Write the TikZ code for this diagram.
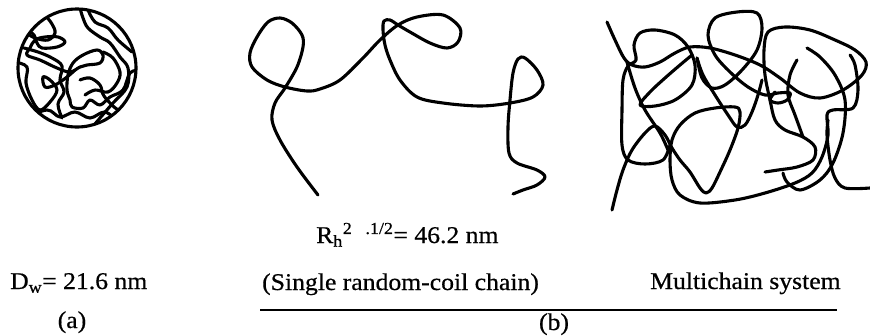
\documentclass[tikz,border=0pt]{standalone}
\usepackage{fontspec}
\setmainfont{Liberation Serif}[FakeStretch=1.07,FakeBold=0.6]
\begin{document}
\begin{tikzpicture}[x=1pt,y=-1pt,
  chain/.style={line width=3.1pt, line cap=round, line join=round},
  lbl/.style={inner sep=0pt, font=\fontsize{24}{27}\selectfont}]
\useasboundingbox (0,0) rectangle (870,335);

% (a) collapsed globule
\draw[chain] (77,68) circle (59);
\begin{scope}
  \clip (77,68) circle (58.5);
  \draw[chain] plot[smooth, tension=0.6] coordinates {(15,30) (32,33) (37,43) (42,48) (57,47) (65,42) (58,37) (45,37) (35,40) (30,48) (27,55) (40,60) (57,68) (70,72) (80,67) (87,65) (100,63) (103,55) (97,50) (83,55) (73,63) (68,75) (67,90) (70,100) (72,107) (83,108) (90,100) (100,105) (110,97) (123,90) (130,73) (140,70)};
  \draw[chain] plot[smooth, tension=0.6] coordinates {(80,8) (83,18) (88,28) (100,37) (110,43) (120,57) (128,68) (127,87) (113,103) (100,118) (90,130)};
  \draw[chain] plot[smooth, tension=0.6] coordinates {(15,62) (27,67) (26,83) (32,100) (40,110) (50,102) (57,90) (50,80) (43,77) (45,87) (55,85) (67,77) (75,70)};
  \draw[chain] plot[smooth, tension=0.6] coordinates {(25,118) (47,110) (60,117) (75,112) (90,118) (105,112) (118,122)};
  \draw[chain] plot[smooth, tension=0.6] coordinates {(103,52) (113,58) (120,72) (117,83) (108,92) (95,90) (85,95)};
  \draw[chain] plot[smooth, tension=0.6] coordinates {(45,15) (52,24) (55,33) (48,40) (35,38) (25,32)};
  \draw[chain] plot[smooth, tension=0.6] coordinates {(24,48) (38,52) (52,58) (62,66) (60,80) (64,92) (58,104) (62,118)};
  \draw[chain] plot[smooth, tension=0.6] coordinates {(88,10) (95,22) (108,28) (118,40) (132,52)};
  \draw[chain] plot[smooth, tension=0.6] coordinates {(80,80) (90,78) (100,85) (104,96) (118,110) (130,112)};
\end{scope}

% (b) single random coil
\draw[chain] plot[smooth, tension=0.55] coordinates {(318,195) (297,167) (280,140) (272,120) (275,103) (285,88) (297,67) (303,47) (302,35) (292,23) (280,18) (268,22) (257,37) (250,53) (252,67) (267,80) (285,87) (307,91) (320,89) (340,80) (363,58) (380,40) (398,25) (417,17) (443,15) (460,28) (458,42) (447,48) (430,43) (410,32) (398,25) (390,20) (384,21) (383,30) (385,45) (390,60) (400,80) (417,97) (443,103) (480,106) (510,103) (533,97) (543,85) (537,70) (525,58) (518,59) (513,73) (510,100) (508,127) (509,153) (517,163) (537,170) (545,177) (537,185) (523,190) (513,194)};

% (b) multichain system
\draw[chain] plot[smooth, tension=0.55] coordinates {(607,22) (615,40) (624,58) (632,65) (645,67) (660,62) (675,53) (690,47) (710,48) (735,55) (760,65) (780,78) (800,93) (820,98) (843,90) (862,75) (866,62) (855,50) (835,40) (810,30) (785,27) (768,32) (764,50) (765,75) (770,100) (775,120) (785,130) (803,137) (815,147) (813,160) (797,167) (778,170) (765,172)};
\draw[chain] plot[smooth, tension=0.55] coordinates {(612,210) (617,190) (623,170) (632,150) (645,133) (655,126) (665,135) (672,148) (680,160) (690,172) (700,188) (706,193) (712,188) (720,172) (730,150) (738,128) (740,112) (735,107) (715,108) (695,113) (680,125) (672,140) (670,160) (672,180) (680,195) (700,203) (735,200) (765,193) (795,183) (812,173) (822,157) (828,135) (827,115) (833,110) (853,108) (858,90) (855,65) (850,55)};
\draw[chain] plot[smooth, tension=0.55] coordinates {(670,145) (663,160) (645,164) (628,160) (622,145) (622,110) (623,80) (628,66) (636,60) (634,45) (640,33) (655,30) (675,35) (688,47) (695,65) (692,85) (675,100) (655,106) (640,105) (650,92) (665,78) (680,65) (692,55)};
\draw[chain] plot[smooth, tension=0.55] coordinates {(697,58) (702,78) (712,88) (725,85) (742,70) (757,50) (762,28) (757,13) (737,12) (715,18) (708,35) (715,55) (730,72) (748,87) (765,95) (778,93) (790,93) (787,100) (778,103) (770,100) (775,92)};
\draw[chain] plot[smooth, tension=0.55] coordinates {(627,62) (635,88) (645,110) (660,133) (668,150)};
\draw[chain] plot[smooth, tension=0.55] coordinates {(697,58) (703,75) (715,95) (728,115) (737,127) (745,125) (752,112) (758,95) (762,80)};
\draw[chain] plot[smooth, tension=0.55] coordinates {(797,60) (790,75) (788,95) (795,115) (803,137)};
\draw[chain] plot[smooth, tension=0.55] coordinates {(807,48) (820,57) (835,75) (845,100) (843,133) (833,163) (820,180) (800,190) (787,182) (783,173)};
\draw[chain] plot[smooth, tension=0.55] coordinates {(870,188) (845,188) (835,178) (830,160) (827,135) (828,120)};

% labels
\node[lbl, anchor=base west] (rh) at (316,243)
  {R\textsubscript{h}\textsuperscript{2}\hspace{0.55em}\textsuperscript{.1/2}= 46.2 nm};
\node[lbl, anchor=base west] (dw) at (10,289) {D\textsubscript{w}= 21.6 nm};
\node[lbl, anchor=base west] (single) at (262,290) {(Single random-coil chain)};
\node[lbl, anchor=base west] (multi) at (650,289) {Multichain system};
\node[lbl, anchor=base] (la) at (72,328) {(a)};
\node[lbl, anchor=base] (lb) at (554,330) {(b)};
\coordinate (bl) at (260,310);
\coordinate (br) at (837,310);
\draw[line width=2pt] (bl) -- (br);
\end{tikzpicture}
\end{document}
